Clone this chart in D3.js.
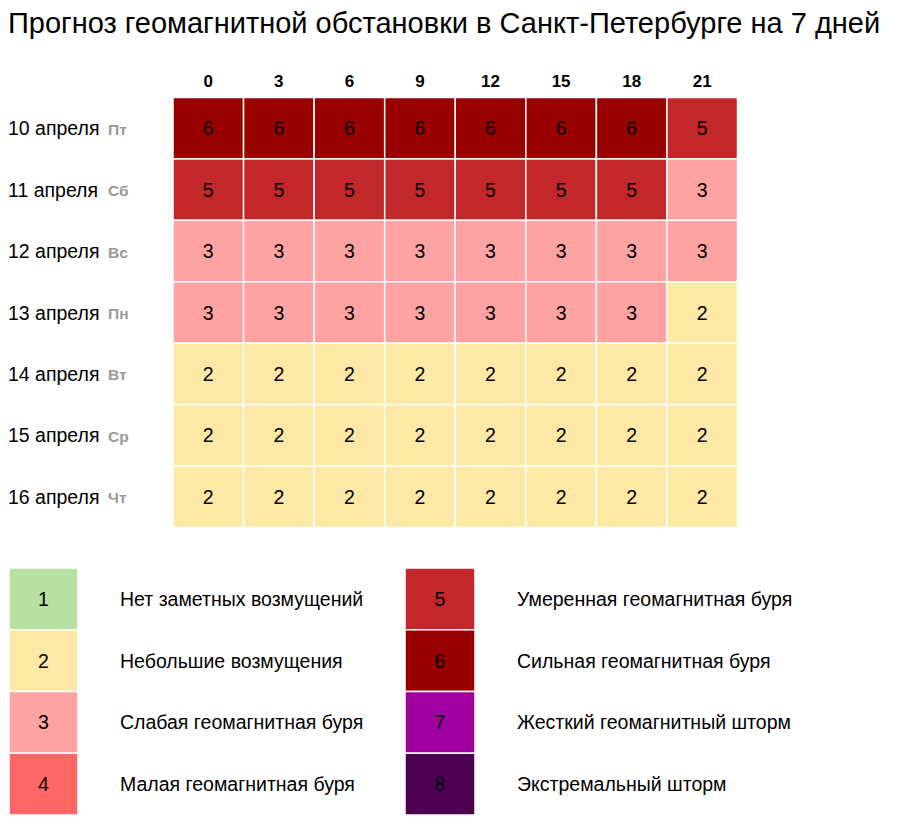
<!DOCTYPE html>
<html>
<head>
<meta charset="utf-8">
<script src="https://cdn.jsdelivr.net/npm/d3@7"></script>
<style>
  body { margin: 0; background: #fff; }
  svg text { font-family: "Liberation Sans", Arial, sans-serif; }
</style>
</head>
<body>
<div id="chart"></div>
<script>
var title = "Прогноз геомагнитной обстановки в Санкт-Петербурге на 7 дней";
var hours = ["0", "3", "6", "9", "12", "15", "18", "21"];
var dates = ["10 апреля", "11 апреля", "12 апреля", "13 апреля", "14 апреля", "15 апреля", "16 апреля"];
var weekdays = ["Пт", "Сб", "Вс", "Пн", "Вт", "Ср", "Чт"];
var kp = [
  [6, 6, 6, 6, 6, 6, 6, 5],
  [5, 5, 5, 5, 5, 5, 5, 3],
  [3, 3, 3, 3, 3, 3, 3, 3],
  [3, 3, 3, 3, 3, 3, 3, 2],
  [2, 2, 2, 2, 2, 2, 2, 2],
  [2, 2, 2, 2, 2, 2, 2, 2],
  [2, 2, 2, 2, 2, 2, 2, 2]
];
var levels = [1, 2, 3, 4, 5, 6, 7, 8];
var levelNames = [
  "Нет заметных возмущений",
  "Небольшие возмущения",
  "Слабая геомагнитная буря",
  "Малая геомагнитная буря",
  "Умеренная геомагнитная буря",
  "Сильная геомагнитная буря",
  "Жесткий геомагнитный шторм",
  "Экстремальный шторм"
];
var levelColors = ["#b7e1a1", "#fee8a5", "#ffa2a2", "#ff6666", "#c2272a", "#990000", "#a000a0", "#4d0052"];

var width = 904, height = 822;
var svg = d3.select("#chart").append("svg")
  .attr("width", width)
  .attr("height", height);

var color = d3.scaleOrdinal().domain(levels).range(levelColors);

svg.append("text")
  .attr("x", 8)
  .attr("y", 33)
  .attr("font-size", "29px")
  .attr("fill", "#000")
  .text(title);

// grid
var x = d3.scaleBand().domain(hours).range([173, 737.5]);
var y = d3.scaleBand().domain(dates).range([97.5, 527.5]);

svg.append("g").selectAll("text")
  .data(hours)
  .enter()
  .append("text")
  .attr("x", d => x(d) + x.bandwidth() / 2)
  .attr("y", 86.5)
  .attr("text-anchor", "middle")
  .attr("font-size", "17px")
  .attr("font-weight", "bold")
  .text(d => d);

var cells = [];
kp.forEach((row, i) => {
  row.forEach((v, j) => {
    cells.push({date: dates[i], hour: hours[j], value: v});
  });
});

var grid = svg.append("g").attr("class", "grid");
grid.selectAll("rect")
  .data(cells)
  .enter()
  .append("rect")
  .attr("x", d => x(d.hour))
  .attr("y", d => y(d.date))
  .attr("width", x.bandwidth())
  .attr("height", y.bandwidth())
  .attr("fill", d => color(d.value))
  .attr("stroke", "#fff")
  .attr("stroke-width", 1.5);

grid.selectAll("text")
  .data(cells)
  .enter()
  .append("text")
  .attr("x", d => x(d.hour) + x.bandwidth() / 2)
  .attr("y", d => y(d.date) + y.bandwidth() / 2 + 7)
  .attr("text-anchor", "middle")
  .attr("font-size", "19.5px")
  .attr("fill", "#000")
  .text(d => d.value);

var rowLabels = svg.append("g").selectAll("g")
  .data(dates)
  .enter()
  .append("g");
rowLabels.append("text")
  .attr("x", 8)
  .attr("y", d => y(d) + y.bandwidth() / 2 + 7)
  .attr("font-size", "19.5px")
  .text(d => d);
rowLabels.append("text")
  .attr("x", 108)
  .attr("y", d => y(d) + y.bandwidth() / 2 + 6.5)
  .attr("font-size", "15.5px")
  .attr("font-weight", "bold")
  .attr("fill", "#999")
  .text((d, i) => weekdays[i]);

// legend
var ly = d3.scaleBand().domain([0, 1, 2, 3]).range([568, 815]);
var legendCols = [
  {swatch: [9, 78], text: 120},
  {swatch: [405, 475], text: 517}
];
var legend = svg.append("g").selectAll("g")
  .data(levels)
  .enter()
  .append("g")
  .each(function(d, i) {
    var g = d3.select(this);
    var col = legendCols[Math.floor(i / 4)];
    var row = i % 4;
    var cy = ly(row) + ly.bandwidth() / 2;
    g.append("rect")
      .attr("x", col.swatch[0])
      .attr("y", ly(row))
      .attr("width", col.swatch[1] - col.swatch[0])
      .attr("height", ly.bandwidth())
      .attr("fill", color(d))
      .attr("stroke", "#fff")
      .attr("stroke-width", 1.5);
    g.append("text")
      .attr("x", (col.swatch[0] + col.swatch[1]) / 2)
      .attr("y", cy + 7)
      .attr("text-anchor", "middle")
      .attr("font-size", "19.5px")
      .text(d);
    g.append("text")
      .attr("x", col.text)
      .attr("y", cy + 7)
      .attr("font-size", "19.5px")
      .text(levelNames[i]);
  });
</script>
</body>
</html>
